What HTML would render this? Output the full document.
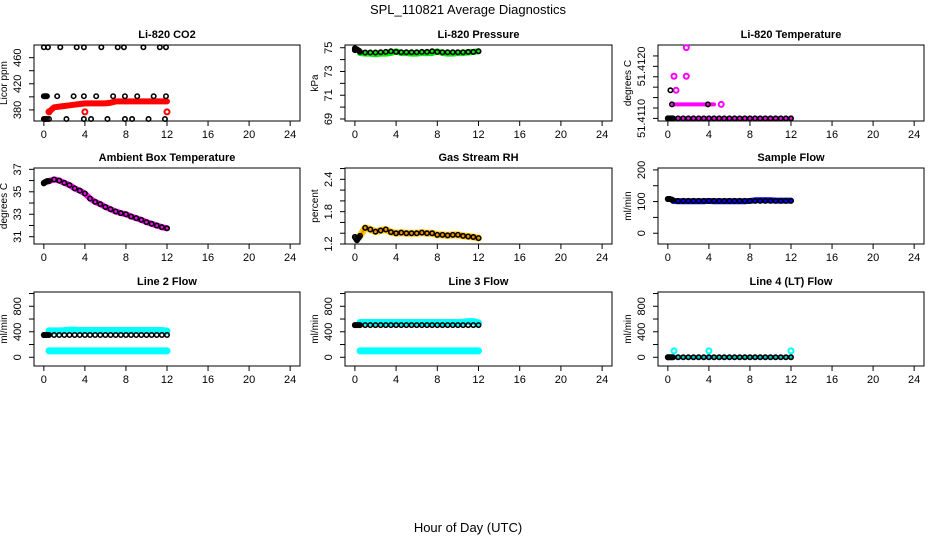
<!DOCTYPE html>
<html><head><meta charset="utf-8">
<style>
html,body{margin:0;padding:0;background:#fff;}
svg{display:block;font-family:"Liberation Sans",Arial,sans-serif;}
</style></head>
<body>
<svg id="chart" width="936" height="540" viewBox="0 0 936 540" xmlns="http://www.w3.org/2000/svg">
<rect width="936" height="540" fill="#fff"/>
<text x="468" y="14" text-anchor="middle" font-size="13">SPL_110821  Average Diagnostics</text>
<text x="468" y="532" text-anchor="middle" font-size="13">Hour of Day (UTC)</text>
</svg>
<script>
const xTicks = [0,4,8,12,16,20,24];
const H = [0,0.5,1,1.5,2,2.5,3,3.5,4,4.5,5,5.5,6,6.5,7,7.5,8,8.5,9,9.5,10,10.5,11,11.5,12];
const HC = [0.5,1,1.5,2,2.5,3,3.5,4,4.5,5,5.5,6,6.5,7,7.5,8,8.5,9,9.5,10,10.5,11,11.5,12];
const HD = [0,0.1,0.2,0.3,0.4];

// CO2
const co2HiH = [0,0.4,1.6,3.2,3.9,5.6,7.2,7.8,9.7,11.3,11.9];
const co2HiV = [476,476,476,476,476,476,476,476,476,476,476];
const co2MidH = [0,0.1,0.2,0.3,1.3,2.9,3.9,5.1,6.75,7.9,9.1,10.7,11.9];
const co2MidV = [401,401,401,401,401,401,401,401,401,401,401,401,401];
const co2LoH = [0,0.15,0.3,0.5,2.2,3.9,4.6,6.2,7.9,8.6,10.2,11.8];
const co2LoV = [366,366,366,366,366,366,366,366,366,366,366,366];
const co2Red = [377,384,385,386,387,388,389,390,390,390,390,390,391,393,393,393,393,393,393,393,393,393,393,393];
const co2RedOutH = [0.5,4,12];
const co2RedOutV = [377,377,377];
// Pressure
const presGreen = [74.55,74.5,74.5,74.45,74.5,74.5,74.55,74.7,74.55,74.55,74.5,74.5,74.55,74.55,74.55,74.7,74.55,74.5,74.5,74.55,74.55,74.6,74.65,74.7];
const presBlackD = [74.95,74.9,74.85,74.8,74.75];
const presBlack = [74.8,74.65,74.6,74.6,74.6,74.62,74.65,74.7,74.65,74.62,74.62,74.62,74.62,74.65,74.65,74.7,74.65,74.62,74.62,74.62,74.62,74.62,74.65,74.65,74.7];
// Li-820 temperature
const tBase = [51.4110,51.4110,51.4110,51.4110,51.4110,51.4110,51.4110,51.4110,51.4110,51.4110,51.4110,51.4110,51.4110,51.4110,51.4110,51.4110,51.4110,51.4110,51.4110,51.4110,51.4110,51.4110,51.4110,51.4110,51.4110];
const tMagBandH = [0.5,1,1.5,2,2.5,3,3.5,4,4.5];
const tMagBandV = [51.41127,51.41127,51.41127,51.41127,51.41127,51.41127,51.41127,51.41127,51.41127];
const tMagOutH = [5.2,0.8,0.6,1.8,1.8];
const tMagOutV = [51.41127,51.41154,51.41181,51.41181,51.41236];
const tBlkOutH = [0.25,0.4,3.9];
const tBlkOutV = [51.41154,51.41127,51.41127];
// Ambient
const ambV = [35.8,35.95,36.1,36.0,35.8,35.6,35.3,35.1,34.85,34.4,34.1,33.9,33.65,33.45,33.25,33.1,33.0,32.8,32.65,32.5,32.3,32.15,32.0,31.85,31.75];
const ambD = [35.75,35.85,35.9,35.95,35.95];
// RH
const rhV = [1.33,1.35,1.50,1.47,1.43,1.45,1.47,1.42,1.40,1.41,1.40,1.40,1.40,1.41,1.40,1.40,1.37,1.37,1.36,1.37,1.37,1.35,1.34,1.33,1.31];
const rhD = [1.33,1.3,1.27,1.3,1.32];
// Sample flow
const sfBlue = [102,101,101,101,101,101,101,102,101,101,101,101,101,101,101,102,104,104,104,104,103,103,103,103];
const sfBlack = [108,104,102,102,102,102,102,102,102,102,102,102,102,102,102,102,102,102,102,102,102,102,102,102,102];
const sfD = [108,108,108,107,106];
// Line 2
const l2Hi = [415,415,415,418,425,425,420,420,420,420,420,420,420,420,420,420,420,420,420,420,420,420,420,410];
const l2Lo = [100,100,100,100,100,100,100,100,100,100,100,100,100,100,100,100,100,100,100,100,100,100,100,100];
const l2Blk = [350,350,350,350,350,350,350,350,350,350,350,350,350,350,350,350,350,350,350,350,350,350,350,350,350];
// Line 3
const l3Hi = [545,545,545,545,545,545,545,545,545,545,545,545,545,545,545,545,545,545,545,545,550,560,560,540];
const l3Lo = [100,100,100,100,100,100,100,100,100,100,100,100,100,100,100,100,100,100,100,100,100,100,100,100];
const l3Blk = [505,505,505,505,505,505,505,505,505,505,505,505,505,505,505,505,505,505,505,505,505,505,505,505,505];
// Line 4
const l4Blk = [0,0,0,0,0,0,0,0,0,0,0,0,0,0,0,0,0,0,0,0,0,0,0,0,0];
const l4CyOutH = [0.6,4,12];
const l4CyOutV = [100,100,100];

const NS = 'http://www.w3.org/2000/svg';
const svg = document.getElementById('chart');
function mk(tag, attrs, parent){const e=document.createElementNS(NS,tag);for(const k in attrs)e.setAttribute(k,attrs[k]);(parent||svg).appendChild(e);return e;}

const cols=[[34,300],[345,612],[658,924]];
const rows=[[45,121],[168,244],[292,366]];
const XMIN=-0.96, XMAX=24.96;

function makePanel(ci,ri,title,ylab,ymin,ymax,yticks,ylabels,name){
  const [x0,x1]=cols[ci],[y0,y1]=rows[ri];
  const g=mk('g',{});
  
  
  const sx=v=>x0+(v-XMIN)/(XMAX-XMIN)*(x1-x0);
  const sy=v=>y1-(v-ymin)/(ymax-ymin)*(y1-y0);
  const box=mk('rect',{x:x0,y:y0,width:x1-x0,height:y1-y0,fill:'none',stroke:'#000','stroke-width':1},g);
  
  
  const t=mk('text',{x:(x0+x1)/2,y:y0-7,'text-anchor':'middle','font-size':11,'font-weight':'bold'},g);
  t.textContent=title;
  
  
  xTicks.forEach(v=>{
    const x=sx(v);
    mk('line',{x1:x,x2:x,y1:y1,y2:y1+5,stroke:'#000'},g);
    const l=mk('text',{x:x,y:y1+17,'text-anchor':'middle','font-size':11},g);
    l.textContent=v;
    
    
  });
  yticks.forEach(v=>{
    const y=sy(v);
    mk('line',{x1:x0-5,x2:x0,y1:y,y2:y,stroke:'#000'},g);
  });
  ylabels.forEach(v=>{
    const y=sy(v), x=x0-13;
    const l=mk('text',{x:x,y:y,'text-anchor':'middle','font-size':11,transform:`rotate(-90 ${x} ${y})`},g);
    l.textContent=v;
    
    
  });
  const yl=mk('text',{x:x0-27,y:(y0+y1)/2,'text-anchor':'middle','font-size':10,transform:`rotate(-90 ${x0-27} ${(y0+y1)/2})`},g);
  yl.textContent=ylab;
  
  
  const dg=mk('g',{},g);
  return {
    band(xs,ys,color,w,nm){
      const p=mk('polyline',{points:xs.map((x,i)=>sx(x)+','+sy(ys[i])).join(' '),fill:'none',stroke:color,'stroke-width':w,'stroke-linecap':'round','stroke-linejoin':'round'},dg);
      
      
    },
    pts(xs,ys,color,r,w,nm){
      xs.forEach((x,i)=>{
        const c=mk('circle',{cx:sx(x),cy:sy(ys[i]),r:r,fill:'none',stroke:color,'stroke-width':w},dg);
        
        
      });
    }
  };
}
const BK='#000', BR=2.2, BW=1.6;

let p=makePanel(0,0,'Li-820 CO2','Licor ppm',363,479.4,[380,400,420,440,460],[380,420,460],'co2');
p.band(HC,co2Red,'#ff0000',6,'co2-red-series');
p.pts(co2RedOutH,co2RedOutV,'#ff0000',2.5,2,'co2-red-point');
p.pts(co2HiH,co2HiV,BK,BR,BW,'co2-black-point');
p.pts(co2MidH,co2MidV,BK,BR,BW,'co2-black-point');
p.pts(co2LoH,co2LoV,BK,BR,BW,'co2-black-point');

p=makePanel(1,0,'Li-820 Pressure','kPa',68.83,75.23,[69,70,71,72,73,74,75],[69,71,73,75],'pressure');
p.band(HC,presGreen,'#00ee00',6,'pressure-green-series');
p.pts(HD,presBlackD,BK,BR,BW,'pressure-black-point');
p.pts(H,presBlack,BK,BR,BW,'pressure-black-point');

p=makePanel(2,0,'Li-820 Temperature','degrees C',51.41095,51.41241,[51.4110,51.4112,51.4114,51.4116,51.4118,51.4120,51.4122],['51.4110','51.4120'],'li820-temp');
p.band(HC,tBase.slice(1),'#ff00ff',4,'li820-temp-magenta-series');
p.band(tMagBandH,tMagBandV,'#ff00ff',4,'li820-temp-magenta-band');
p.pts(tMagOutH,tMagOutV,'#ff00ff',2.5,2,'li820-temp-magenta-point');
p.pts(HD,[51.4110,51.4110,51.4110,51.4110,51.4110],BK,BR,BW,'li820-temp-black-point');
p.pts(H,tBase,BK,BR,BW,'li820-temp-black-point');
p.pts(tBlkOutH,tBlkOutV,BK,BR,BW,'li820-temp-black-point');

p=makePanel(0,1,'Ambient Box Temperature','degrees C',30.35,37.12,[31,32,33,34,35,36,37],[31,33,35,37],'ambient');
p.band(H,ambV,'#ff00ff',6,'ambient-magenta-series');
p.pts(HD,ambD,BK,BR,BW,'ambient-black-point');
p.pts(H,ambV,BK,BR,BW,'ambient-black-point');

p=makePanel(1,1,'Gas Stream RH','percent',1.2,2.61,[1.2,1.4,1.6,1.8,2.0,2.2,2.4,2.6],[1.2,1.8,2.4],'rh');
p.band(HC,rhV.slice(1),'#ffcc00',7,'rh-yellow-series');
p.band(HC,rhV.slice(1),'#ff8800',2,'rh-orange-series');
p.pts(HD,rhD,BK,BR,BW,'rh-black-point');
p.pts(H,rhV,BK,BR,BW,'rh-black-point');

p=makePanel(2,1,'Sample Flow','ml/min',-34,206,[0,50,100,150,200],[0,100,200],'sample-flow');
p.band(HC,sfBlue,'#0000ff',6,'sample-flow-blue-series');
p.pts(HD,sfD,BK,BR,BW,'sample-flow-black-point');
p.pts(H,sfBlack,BK,BR,BW,'sample-flow-black-point');

p=makePanel(0,2,'Line 2 Flow','ml/min',-137,1024,[0,200,400,600,800,1000],[0,400,800],'line2');
p.band(HC,l2Hi,'#00ffff',7,'line2-cyan-high');
p.band(HC,l2Lo,'#00ffff',7,'line2-cyan-low');
p.pts(HD,[350,350,350,350,350],BK,BR,BW,'line2-black-point');
p.pts(H,l2Blk,BK,BR,BW,'line2-black-point');

p=makePanel(1,2,'Line 3 Flow','ml/min',-137,1024,[0,200,400,600,800,1000],[0,400,800],'line3');
p.band(HC,l3Hi,'#00ffff',7,'line3-cyan-high');
p.band(HC,l3Lo,'#00ffff',7,'line3-cyan-low');
p.pts(HD,[505,505,505,505,505],BK,BR,BW,'line3-black-point');
p.pts(H,l3Blk,BK,BR,BW,'line3-black-point');

p=makePanel(2,2,'Line 4 (LT) Flow','ml/min',-137,1024,[0,200,400,600,800,1000],[0,400,800],'line4');
p.band(HC,l4Blk.slice(1),'#00cccc',4,'line4-cyan-series');
p.pts(l4CyOutH,l4CyOutV,'#00ffff',2.5,2,'line4-cyan-point');
p.pts(HD,[0,0,0,0,0],BK,BR,BW,'line4-black-point');
p.pts(H,l4Blk,BK,BR,BW,'line4-black-point');
</script>
</body></html>
